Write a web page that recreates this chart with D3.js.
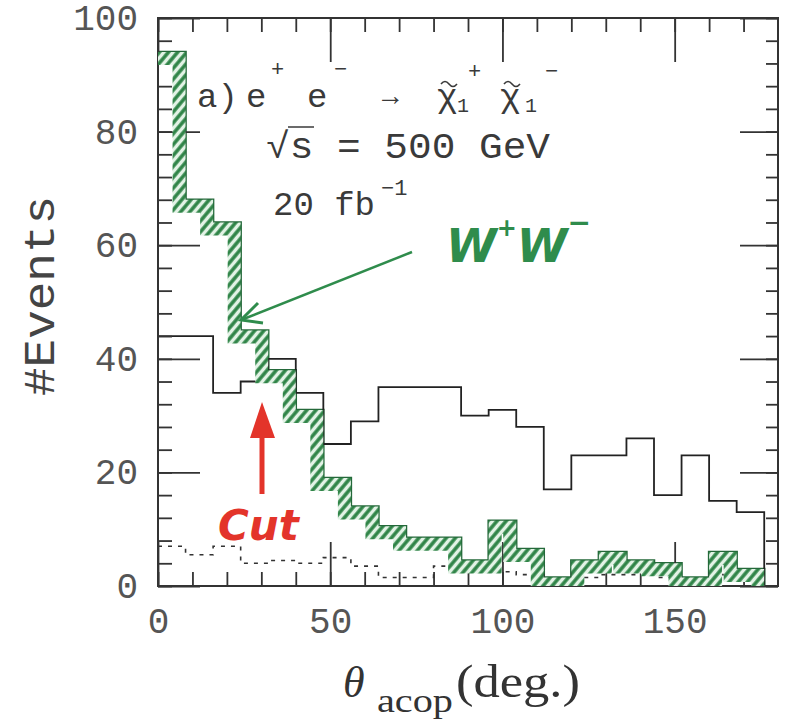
<!DOCTYPE html>
<html>
<head>
<meta charset="utf-8">
<script src="https://cdn.jsdelivr.net/npm/d3@7/dist/d3.min.js"></script>
<style>
  body { margin: 0; background: #fff; }
</style>
</head>
<body>
<div class="chartDiv"></div>
<script>
// acoplanarity angle histograms, 8 deg bins

const binEdges = [0, 8, 16, 24, 32, 40, 48, 56, 64, 72, 80, 88, 96, 104, 112, 120, 128, 136, 144, 152, 160, 168, 176];

// signal: e+ e- -> chargino pair (solid)
const charginoEvents = [44, 44, 34, 36, 40, 34, 25, 29, 35, 35, 35, 30, 31, 28, 17, 23, 23, 26, 16, 23, 15, 13];
// W+W- background (green hatched)
const wwEvents = [94, 68, 64, 45, 38, 31, 19, 14, 10.5, 8.5, 8.5, 4.5, 11.5, 6.5, 1.5, 4.5, 6, 4.5, 4, 1.5, 6, 3];
// other background (dotted)
const otherEvents = [7, 5.5, 7, 4, 4.5, 4, 5, 3.5, 1.5, 1.5, 3.5, 2.5, 2.5, 2, 1, 1.5, 2, 2, 1.5, 1, 2, 1.5];

const xTicks = [0, 50, 100, 150];
const yTicks = [0, 20, 40, 60, 80, 100];

let svgWidth = 785;
let svgHeight = 722;

let margin = { top: 18, right: 7, bottom: 136, left: 158 };
let graphWidth = svgWidth - margin.left - margin.right;
let graphHeight = svgHeight - margin.top - margin.bottom;

let svg = d3.select('.chartDiv')
            .append('svg')
            .attr('width', svgWidth)
            .attr('height', svgHeight)
            .style('background', '#fff');

let defs = svg.append('defs');
let hatch = defs.append('pattern')
                .attr('id', 'hatch')
                .attr('patternUnits', 'userSpaceOnUse')
                .attr('width', 7)
                .attr('height', 7)
                .attr('patternTransform', 'rotate(40)');
hatch.append('rect')
     .attr('width', 7).attr('height', 7)
     .attr('fill', '#e3f3e6');
hatch.append('line')
     .attr('x1', 2).attr('y1', 0).attr('x2', 2).attr('y2', 7)
     .attr('stroke', '#2f8447')
     .attr('stroke-width', 3.5);

let chartGroup = svg.append('g')
                    .attr('transform', `translate(${margin.left}, ${margin.top})`);

let xScale = d3.scaleLinear().domain([0, 180]).range([0, graphWidth]);
let yScale = d3.scaleLinear().domain([0, 100]).range([graphHeight, 0]);

// step points for a histogram, closed down to zero at the last edge
let stepPoints = vals => {
  let pts = vals.map((v, i) => [binEdges[i], v]);
  pts.push([binEdges[vals.length], vals[vals.length - 1]]);
  pts.push([binEdges[vals.length], 0]);
  return pts;
};

let stepLine = d3.line()
                 .x(d => xScale(d[0]))
                 .y(d => yScale(d[1]))
                 .curve(d3.curveStepAfter);

let stepArea = d3.area()
                 .x(d => xScale(d[0]))
                 .y0(yScale(0))
                 .y1(d => yScale(d[1]))
                 .curve(d3.curveStepAfter);

// clip for the hatched band inside the WW histogram
defs.append('clipPath')
    .attr('id', 'wwClip')
    .append('path')
    .attr('transform', `translate(${margin.left}, ${margin.top})`)
    .attr('d', stepArea(stepPoints(wwEvents)));

let wwGroup = svg.append('g').attr('clip-path', 'url(#wwClip)')
                 .append('g')
                 .attr('transform', `translate(${margin.left}, ${margin.top})`);

wwGroup.append('path')
       .attr('d', stepLine(stepPoints(wwEvents)))
       .attr('fill', 'none')
       .attr('stroke', 'url(#hatch)')
       .attr('stroke-width', 26);

chartGroup.append('path')
          .attr('d', stepLine(stepPoints(wwEvents)))
          .attr('fill', 'none')
          .attr('stroke', '#24693a')
          .attr('stroke-width', 2.5);

// dotted background
chartGroup.append('path')
          .attr('d', stepLine(stepPoints(otherEvents)))
          .attr('fill', 'none')
          .attr('stroke', '#333')
          .attr('stroke-width', 1.6)
          .attr('stroke-dasharray', '4,6');

// signal histogram
chartGroup.append('path')
          .attr('d', stepLine(stepPoints(charginoEvents)))
          .attr('fill', 'none')
          .attr('stroke', '#222')
          .attr('stroke-width', 1.8);

// axes: ticks point inward on all four sides
let styleAxis = g => {
  g.select('.domain').remove();
  g.selectAll('.tick line').attr('stroke', '#333').attr('stroke-width', 1.8);
  g.selectAll('.tick text')
   .attr('font-family', 'Liberation Mono, DejaVu Sans Mono, monospace')
   .attr('font-size', 36)
   .attr('fill', '#555');
};

chartGroup.append('g')
          .attr('transform', `translate(0, ${graphHeight})`)
          .call(d3.axisBottom(xScale).tickValues(d3.range(0, 180, 10)).tickSize(-14).tickFormat(''))
          .call(styleAxis);
chartGroup.append('g')
          .attr('transform', `translate(0, ${graphHeight})`)
          .call(d3.axisBottom(xScale).tickValues(xTicks).tickSize(-44).tickPadding(21))
          .call(styleAxis);

chartGroup.append('g')
          .call(d3.axisTop(xScale).tickValues(d3.range(0, 180, 10)).tickSize(-14).tickFormat(''))
          .call(styleAxis);
chartGroup.append('g')
          .call(d3.axisTop(xScale).tickValues(xTicks).tickSize(-44).tickFormat(''))
          .call(styleAxis);

chartGroup.append('g')
          .call(d3.axisLeft(yScale).tickValues(d3.range(0, 101, 4)).tickSize(-14).tickFormat(''))
          .call(styleAxis);
chartGroup.append('g')
          .call(d3.axisLeft(yScale).tickValues(yTicks).tickSize(-42).tickPadding(20))
          .call(styleAxis);

chartGroup.append('g')
          .attr('transform', `translate(${graphWidth}, 0)`)
          .call(d3.axisRight(yScale).tickValues(d3.range(0, 101, 4)).tickSize(-12).tickFormat(''))
          .call(styleAxis);
chartGroup.append('g')
          .attr('transform', `translate(${graphWidth}, 0)`)
          .call(d3.axisRight(yScale).tickValues(yTicks).tickSize(-38).tickFormat(''))
          .call(styleAxis);

// frame
chartGroup.append('rect')
          .attr('width', graphWidth)
          .attr('height', graphHeight)
          .attr('fill', 'none')
          .attr('stroke', '#333')
          .attr('stroke-width', 2);

// axis titles
svg.append('text')
   .attr('transform', 'translate(54, 296) rotate(-90)')
   .attr('text-anchor', 'middle')
   .attr('font-family', 'Liberation Mono, monospace')
   .attr('font-size', 44)
   .attr('fill', '#444')
   .attr('textLength', 200)
   .attr('lengthAdjust', 'spacingAndGlyphs')
   .text('#Events');

svg.append('text')
   .attr('x', 343).attr('y', 697)
   .attr('font-family', 'Liberation Serif, serif')
   .attr('font-size', 44)
   .attr('font-style', 'italic')
   .attr('fill', '#333')
   .text('θ');
svg.append('text')
   .attr('x', 377).attr('y', 712)
   .attr('font-family', 'Liberation Serif, serif')
   .attr('font-size', 34)
   .attr('fill', '#333')
   .attr('textLength', 76)
   .attr('lengthAdjust', 'spacingAndGlyphs')
   .text('acop');
svg.append('text')
   .attr('x', 456).attr('y', 697)
   .attr('font-family', 'Liberation Serif, serif')
   .attr('font-size', 46)
   .attr('fill', '#333')
   .attr('textLength', 124)
   .attr('lengthAdjust', 'spacingAndGlyphs')
   .text('(deg.)');

// process label
let mono = 'Liberation Mono, DejaVu Sans Mono, monospace';
let labelRuns = [
  { t: 'a)', x: 197, y: 107, s: 34 },
  { t: 'e', x: 246, y: 107, s: 34 },
  { t: '+', x: 271, y: 76, s: 22 },
  { t: 'e', x: 307, y: 107, s: 34 },
  { t: '\u2212', x: 334, y: 76, s: 22 },
  { t: '\u2192', x: 382, y: 105, s: 28 },
  { t: '\u03c7', x: 437, y: 107, s: 34 },
  { t: '1', x: 457, y: 112, s: 20 },
  { t: '+', x: 468, y: 78, s: 22 },
  { t: '\u03c7', x: 500, y: 107, s: 34 },
  { t: '1', x: 525, y: 112, s: 20 },
  { t: '\u2212', x: 545, y: 78, s: 22 }
];
svg.append('g')
   .selectAll('text')
   .data(labelRuns)
   .enter()
   .append('text')
   .attr('x', d => d.x)
   .attr('y', d => d.y)
   .attr('font-family', mono)
   .attr('font-size', d => d.s)
   .attr('fill', '#3a3a3a')
   .text(d => d.t);

// tildes over the charginos
[441, 504].forEach(tx => {
  svg.append('path')
     .attr('d', `M${tx},84 q4,-5 8,0 t8,0`)
     .attr('fill', 'none')
     .attr('stroke', '#3a3a3a')
     .attr('stroke-width', 1.6);
});

svg.append('text')
   .attr('x', 266).attr('y', 158)
   .attr('font-family', mono)
   .attr('font-size', 36)
   .attr('fill', '#3a3a3a')
   .attr('textLength', 284)
   .attr('lengthAdjust', 'spacingAndGlyphs')
   .text('\u221as = 500 GeV');
svg.append('line')
   .attr('x1', 288).attr('x2', 314).attr('y1', 127).attr('y2', 127)
   .attr('stroke', '#3a3a3a').attr('stroke-width', 1.5);

let lumi = svg.append('text')
              .attr('x', 273).attr('y', 215)
              .attr('font-family', mono)
              .attr('fill', '#3a3a3a');
lumi.append('tspan').attr('font-size', 34).text('20 fb');
lumi.append('tspan').attr('font-size', 22).attr('dy', -20).attr('dx', 6).text('\u22121');

// hand-drawn annotations
let hand = 'DejaVu Sans, sans-serif';
let ww = svg.append('text')
            .attr('x', 446).attr('y', 262)
            .attr('font-family', hand)
            .attr('font-weight', 'bold')
            .attr('font-style', 'italic')
            .attr('fill', '#2f8c4c');
ww.append('tspan').attr('font-size', 46).text('W');
ww.append('tspan').attr('font-size', 24).attr('dy', -26).text('+');
ww.append('tspan').attr('font-size', 46).attr('dy', 26).text('W');
ww.append('tspan').attr('font-size', 28).attr('dy', -30).text('\u2212');

svg.append('line')
   .attr('x1', 412).attr('y1', 252).attr('x2', 241).attr('y2', 320)
   .attr('stroke', '#2f8c4c').attr('stroke-width', 2.5);
svg.append('path')
   .attr('d', 'M258,303 L241,320 L263,323')
   .attr('fill', 'none')
   .attr('stroke', '#2f8c4c').attr('stroke-width', 3);

svg.append('line')
   .attr('x1', 262).attr('y1', 494).attr('x2', 262).attr('y2', 430)
   .attr('stroke', '#e3342a').attr('stroke-width', 5);
svg.append('path')
   .attr('d', 'M250,438 L262,402 L275,438 Z')
   .attr('fill', '#e3342a');
svg.append('text')
   .attr('x', 218).attr('y', 540)
   .attr('font-family', hand)
   .attr('font-weight', 'bold')
   .attr('font-style', 'italic')
   .attr('font-size', 42)
   .attr('fill', '#e3342a')
   .text('Cut');
</script>
</body>
</html>
